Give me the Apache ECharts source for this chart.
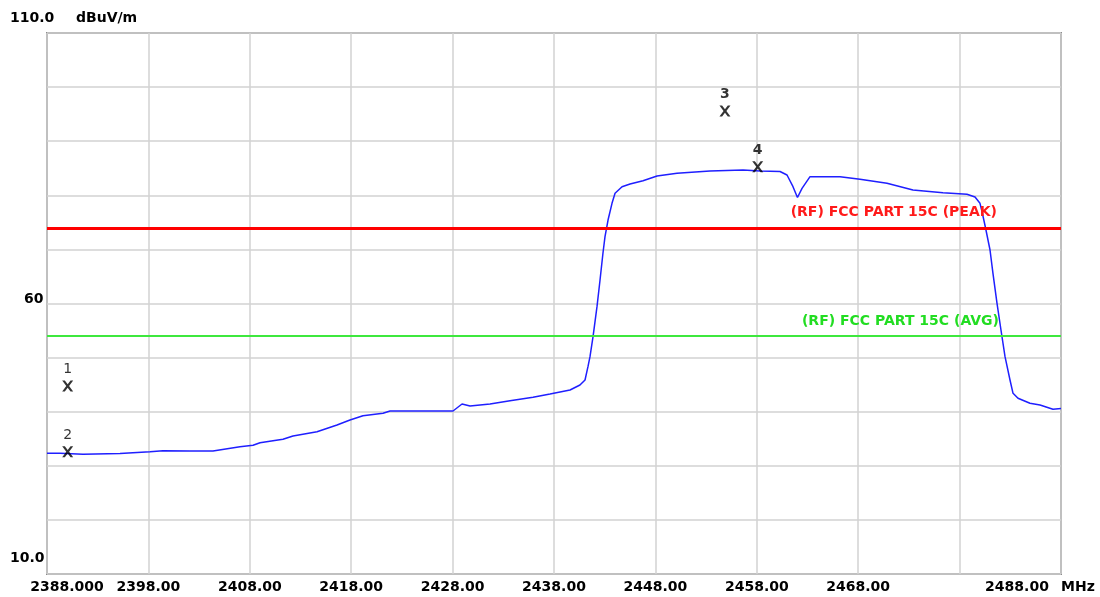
<!DOCTYPE html>
<html>
<head>
<meta charset="utf-8">
<script src="https://cdn.jsdelivr.net/npm/echarts@6/dist/echarts.min.js"></script>
<style>
  html, body { margin: 0; padding: 0; background: #fff; }
  #chart { width: 1100px; height: 597px; }
</style>
</head>
<body>
<div id="chart"></div>
<script>
// trace (MHz, dBuV/m)
var freqs = [2388.00, 2389.28, 2391.55, 2395.20, 2398.16, 2399.44, 2402.10, 2404.37, 2407.03, 2408.32,
  2409.01, 2410.29, 2411.27, 2412.26, 2414.63, 2416.60, 2417.88, 2419.16, 2421.14, 2421.83,
  2424.49, 2427.74, 2428.04, 2428.93, 2429.72, 2431.69, 2433.66, 2435.93, 2437.61, 2439.58,
  2440.56, 2441.06, 2441.35, 2441.55, 2441.85, 2442.24, 2442.54, 2442.83, 2443.03, 2443.33,
  2443.72, 2444.02, 2444.71, 2445.50, 2446.78, 2448.16, 2450.13, 2453.38, 2456.64, 2458.32,
  2460.29, 2460.98, 2461.57, 2462.01, 2462.46, 2463.25, 2466.21, 2468.18, 2470.84, 2473.40,
  2476.36, 2478.73, 2479.52, 2480.01, 2480.21, 2480.55, 2481.00, 2481.29, 2481.69, 2482.08,
  2482.48, 2482.97, 2483.27, 2483.76, 2484.94, 2485.93, 2487.21, 2488.00];
var levels = [32.31, 32.31, 32.13, 32.27, 32.61, 32.80, 32.74, 32.74, 33.53, 33.79,
  34.27, 34.64, 34.90, 35.51, 36.30, 37.54, 38.47, 39.26, 39.70, 40.13,
  40.13, 40.13, 40.13, 41.42, 41.05, 41.42, 42.03, 42.66, 43.27, 44.01,
  44.94, 45.86, 48.32, 50.17, 53.86, 59.41, 64.34, 69.33, 72.35, 75.43,
  78.52, 80.37, 81.59, 82.09, 82.70, 83.57, 84.07, 84.49, 84.68, 84.49,
  84.40, 83.75, 81.59, 79.59, 81.29, 83.44, 83.44, 82.96, 82.22, 80.98,
  80.48, 80.19, 79.69, 78.52, 76.97, 74.05, 69.89, 65.58, 60.04, 55.10,
  50.17, 45.86, 43.40, 42.48, 41.55, 41.24, 40.44, 40.59];

// markers
var markerNames = ['1', '2', '3', '4'];
var markerFreqs = [2390.04, 2390.04, 2454.86, 2458.09];
var markerLevels = [44.75, 32.61, 95.58, 85.29];

// limit lines
var peakLimit = 74;
var avgLimit = 54;
var peakName = '(RF) FCC PART 15C (PEAK)';
var avgName = '(RF) FCC PART 15C (AVG)';

// tick labels
var xTickValues = [2388, 2398, 2408, 2418, 2428, 2438, 2448, 2458, 2468, 2478, 2488];
var xTickLabels = ['2388.000', '2398.00', '2408.00', '2418.00', '2428.00', '2438.00', '2448.00', '2458.00', '2468.00', '', '2488.00'];
var yTickValues = [10, 60, 110];
var yTickLabels = ['10.0', '60', '110.0'];

var myChart = echarts.init(document.getElementById('chart'));

var markerData = [];
for (var i = 0; i < markerFreqs.length; i++) {
  markerData.push({
    value: [markerFreqs[i], markerLevels[i]],
    name: markerNames[i],
    label: { fontWeight: i >= 2 ? 'bold' : 'normal' }
  });
}

var font = 'DejaVu Sans';

var option = {
  animation: false,
  backgroundColor: '#ffffff',
  grid: {
    left: 47, right: 39, top: 33, bottom: 23,
    show: true, borderColor: '#8c8c8c', borderWidth: 2
  },
  xAxis: {
    type: 'value',
    min: 2388, max: 2488, interval: 10,
    name: 'MHz', nameLocation: 'end', nameGap: 0,
    nameTextStyle: { color: '#000', fontFamily: font, fontWeight: 'bold', fontSize: 14, align: 'left', verticalAlign: 'top', padding: [6, 0, 0, 0] },
    axisLine: { show: false },
    axisTick: { show: false },
    splitLine: { lineStyle: { color: '#d2d2d2', width: 1.5 } },
    axisLabel: {
      margin: 6, showMinLabel: true, showMaxLabel: true,
      color: '#000', fontFamily: font, fontWeight: 'bold', fontSize: 14,
      formatter: function (v) {
        var i = xTickValues.indexOf(Math.round(v));
        if (i < 0 || xTickLabels[i] === '') return '';
        if (i === 0) return '{first|' + xTickLabels[i] + '}';
        if (i === xTickValues.length - 1) return '{last|' + xTickLabels[i] + '}';
        return xTickLabels[i];
      },
      rich: {
        first: { color: '#000', fontFamily: font, fontWeight: 'bold', fontSize: 14, padding: [0, 0, 0, 40] },
        last: { color: '#000', fontFamily: font, fontWeight: 'bold', fontSize: 14, padding: [0, 88, 0, 0] }
      }
    }
  },
  yAxis: {
    type: 'value',
    min: 10, max: 110, interval: 10,
    name: 'dBuV/m', nameLocation: 'end', nameGap: 15,
    nameTextStyle: { color: '#000', fontFamily: font, fontWeight: 'bold', fontSize: 14, align: 'left', verticalAlign: 'middle', padding: [0, 0, 0, 29] },
    axisLine: { show: false },
    axisTick: { show: false },
    splitLine: { lineStyle: { color: '#d2d2d2', width: 1.5 } },
    axisLabel: {
      align: 'left', margin: 37, showMinLabel: true, showMaxLabel: true,
      color: '#000', fontFamily: font, fontWeight: 'bold', fontSize: 14,
      formatter: function (v) {
        var i = yTickValues.indexOf(Math.round(v));
        if (i < 0) return '';
        return '{t' + i + '|' + yTickLabels[i] + '}';
      },
      rich: {
        t0: { color: '#000', fontFamily: font, fontWeight: 'bold', fontSize: 14, padding: [0, 0, 31, 0] },
        t1: { color: '#000', fontFamily: font, fontWeight: 'bold', fontSize: 14, padding: [0, 0, 8, 14] },
        t2: { color: '#000', fontFamily: font, fontWeight: 'bold', fontSize: 14, padding: [0, 0, 30, 0] }
      }
    }
  },
  series: [
    {
      name: 'Trace',
      type: 'line',
      data: freqs.map(function (f, i) { return [f, levels[i]]; }),
      showSymbol: false,
      lineStyle: { color: '#1f1fff', width: 1.5 },
      z: 3,
      markLine: {
        silent: true,
        symbol: 'none',
        data: [
          {
            yAxis: peakLimit,
            lineStyle: { color: '#ff0000', width: 3, type: 'solid' },
            label: { formatter: peakName, color: '#ff1a1a', position: 'insideEndTop', distance: 4, padding: [0, 60, 4, 0], fontFamily: font, fontWeight: 'bold', fontSize: 14 }
          },
          {
            yAxis: avgLimit,
            lineStyle: { color: '#3ee83e', width: 2, type: 'solid' },
            label: { formatter: avgName, color: '#22dd22', position: 'insideEndTop', distance: 4, padding: [0, 58, 4, 0], fontFamily: font, fontWeight: 'bold', fontSize: 14 }
          }
        ]
      }
    },
    {
      name: 'Markers',
      type: 'scatter',
      data: markerData,
      symbol: 'path://M0,0 L2.4,0 L5,3.4 L7.6,0 L10,0 L6.3,5 L10,10 L7.6,10 L5,6.6 L2.4,10 L0,10 L3.7,5 Z',
      symbolSize: [11, 11],
      itemStyle: { color: '#000' },
      z: 4,
      label: {
        show: true, position: 'top', distance: 4,
        formatter: '{b}', color: '#000', fontFamily: font, fontSize: 14
      }
    }
  ]
};

myChart.setOption(option);
</script>
</body>
</html>
